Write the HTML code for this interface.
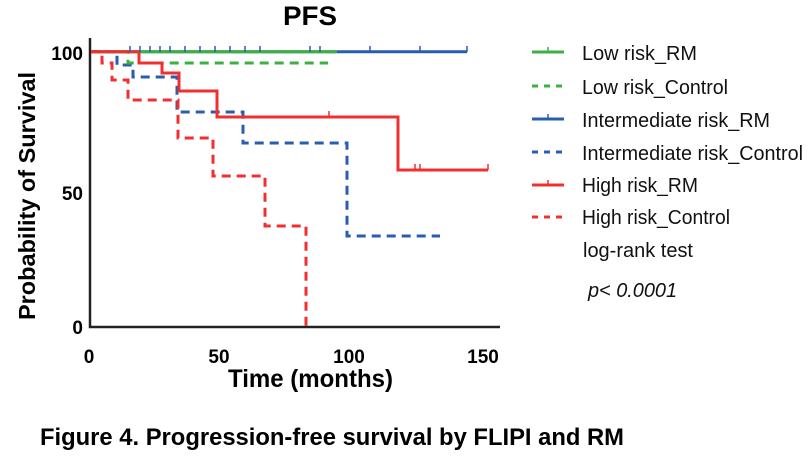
<!DOCTYPE html>
<html><head><meta charset="utf-8"><style>
body{margin:0;background:#fff;width:811px;height:459px;overflow:hidden}
text{font-family:"Liberation Sans",Arial,sans-serif}
</style></head><body>
<svg width="811" height="459" viewBox="0 0 811 459" xmlns="http://www.w3.org/2000/svg">
<text x="283" y="25" font-size="27" font-weight="bold" textLength="54" lengthAdjust="spacingAndGlyphs">PFS</text>
<text transform="translate(35,320) rotate(-90)" font-size="23" font-weight="bold" textLength="248" lengthAdjust="spacingAndGlyphs">Probability of Survival</text>
<g stroke="#222" stroke-width="2.5" fill="none">
<path d="M90,38 V327 H500"/>
</g>
<g font-size="19" font-weight="bold" text-anchor="end">
<text x="83" y="60">100</text><text x="83" y="200">50</text><text x="83" y="334">0</text>
</g>
<g font-size="19" font-weight="bold" text-anchor="middle">
<text x="89" y="363">0</text><text x="219" y="363">50</text><text x="349" y="363">100</text><text x="483" y="363">150</text>
</g>
<text x="228" y="387" font-size="25" font-weight="bold" textLength="165" lengthAdjust="spacingAndGlyphs">Time (months)</text>
<g fill="none" stroke-width="3">
<path d="M91,51.7 H467" stroke="#2a5db0"/>
<path d="M91,51.7 H117 V65 H133 V77 H177 V112 H243 V143 H347 V236 H440" stroke="#2a5db0" stroke-dasharray="9,6"/>
<path d="M91,51.7 H337" stroke="#3cb043"/>
<path d="M91,51.7 H128 V63 H328" stroke="#3cb043" stroke-dasharray="9,6"/>
<path d="M91,51.7 H139 V63 H162 V73 H179 V91 H217 V117 H398 V170 H488" stroke="#f03030"/>
<path d="M91,51.7 H102 V63 H112 V80 H128 V100 H178 V138 H213 V176 H265 V226 H306 V327" stroke="#f03030" stroke-dasharray="9,6"/>
</g>
<g stroke="#2a5db0" stroke-width="1.5">
<path d="M130,46V52M140,46V52M150,46V52M160,46V52M170,46V52M185,46V52M200,46V52M215,46V52M230,46V52M245,46V52M260,46V52M310,46V52M320,46V52M370,46V52M420,46V52M467,46V52"/>
</g>
<g stroke="#f03030" stroke-width="1.5"><path d="M329,111V117M415,164V170M420,164V170M488,164V170"/></g>
<g stroke-width="3" fill="none">
<path d="M532,52 H564" stroke="#3cb043"/><path d="M548,47 V52" stroke="#3cb043" stroke-width="1.5"/>
<path d="M532,86 H564" stroke="#3cb043" stroke-dasharray="6,6"/>
<path d="M532,119 H564" stroke="#2a5db0"/><path d="M548,114 V119" stroke="#2a5db0" stroke-width="1.5"/>
<path d="M532,152 H564" stroke="#2a5db0" stroke-dasharray="6,6"/>
<path d="M532,185 H564" stroke="#f03030"/><path d="M548,180 V185" stroke="#f03030" stroke-width="1.5"/>
<path d="M532,217 H564" stroke="#f03030" stroke-dasharray="6,6"/>
</g>
<g font-size="20" fill="#111" lengthAdjust="spacingAndGlyphs">
<text x="582" y="60" textLength="115" lengthAdjust="spacingAndGlyphs">Low risk_RM</text>
<text x="582" y="94" textLength="146" lengthAdjust="spacingAndGlyphs">Low risk_Control</text>
<text x="582" y="127" textLength="188" lengthAdjust="spacingAndGlyphs">Intermediate risk_RM</text>
<text x="582" y="160" textLength="221" lengthAdjust="spacingAndGlyphs">Intermediate risk_Control</text>
<text x="582" y="192" textLength="116" lengthAdjust="spacingAndGlyphs">High risk_RM</text>
<text x="582" y="224" textLength="148" lengthAdjust="spacingAndGlyphs">High risk_Control</text>
<text x="583" y="257" textLength="110" lengthAdjust="spacingAndGlyphs">log-rank test</text>
<text x="588" y="297" font-style="italic" textLength="89" lengthAdjust="spacingAndGlyphs">p&lt; 0.0001</text>
</g>
<text x="40" y="445" font-size="24" font-weight="bold" textLength="584" lengthAdjust="spacingAndGlyphs">Figure 4. Progression-free survival by FLIPI and RM</text>
</svg>
</body></html>
